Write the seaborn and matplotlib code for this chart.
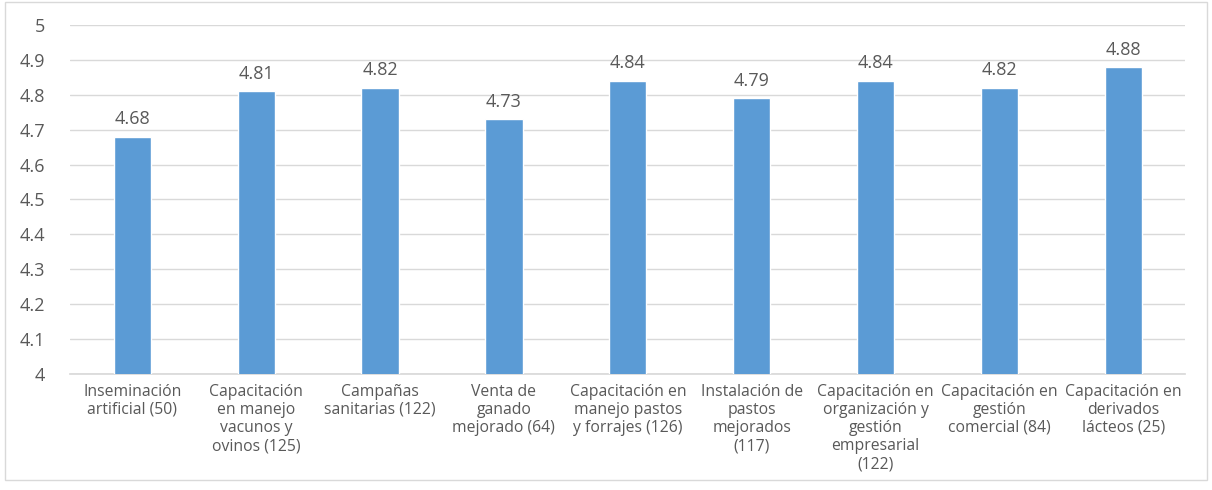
import matplotlib
matplotlib.use("Agg")
import matplotlib.pyplot as plt
import seaborn as sns
import pandas as pd
from matplotlib.patches import Rectangle

categories = [
    "Inseminación\nartificial (50)",
    "Capacitación\nen manejo\nvacunos y\novinos (125)",
    "Campañas\nsanitarias (122)",
    "Venta de\nganado\nmejorado (64)",
    "Capacitación en\nmanejo pastos\ny forrajes (126)",
    "Instalación de\npastos\nmejorados\n(117)",
    "Capacitación en\norganización y\ngestión\nempresarial\n(122)",
    "Capacitación en\ngestión\ncomercial (84)",
    "Capacitación en\nderivados\nlácteos (25)",
]
values = [4.68, 4.81, 4.82, 4.73, 4.84, 4.79, 4.84, 4.82, 4.88]
yticks = [4.0, 4.1, 4.2, 4.3, 4.4, 4.5, 4.6, 4.7, 4.8, 4.9, 5.0]
ytick_labels = ["4", "4.1", "4.2", "4.3", "4.4", "4.5", "4.6", "4.7", "4.8", "4.9", "5"]

sns.set_theme(style="white")
plt.rcParams["font.family"] = ["Open Sans", "DejaVu Sans"]

df = pd.DataFrame({"cat": categories, "val": values})

fig = plt.figure(figsize=(12.12, 4.9), dpi=100)
ax = fig.add_axes([0.058, 0.237, 0.92, 0.712])

sns.barplot(data=df, x="cat", y="val", color="#5B9BD5", saturation=1,
            width=0.3, ax=ax, zorder=3)

ax.set_ylim(4.0, 5.0)
ax.set_yticks(yticks)
ax.set_yticklabels(ytick_labels, fontsize=13, color="#595959")
ax.set_xlim(-0.5, len(categories) - 0.5)
ax.tick_params(axis="x", labelsize=11.3, colors="#595959", length=0, pad=7)
for lab in ax.get_xticklabels():
    lab.set_linespacing(1.18)
ax.tick_params(axis="y", length=0, pad=18)
ax.set_xlabel("")
ax.set_ylabel("")
ax.yaxis.grid(True, color="#D9D9D9", linewidth=1, zorder=0)
ax.set_axisbelow(True)
for s in ["top", "right", "left"]:
    ax.spines[s].set_visible(False)
ax.spines["bottom"].set_color("#D9D9D9")

for c in ax.containers:
    ax.bar_label(c, labels=[f"{v:.2f}" for v in values], padding=6,
                 fontsize=13, color="#595959")

fig.patches.append(Rectangle((0.004, 0.02), 0.992, 0.975, transform=fig.transFigure,
                             fill=False, edgecolor="#D9D9D9", linewidth=1))

fig.savefig("out.png", dpi=100)
